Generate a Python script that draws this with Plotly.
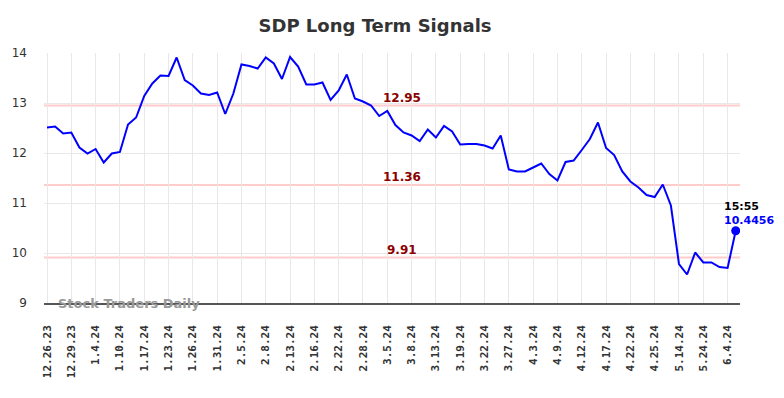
import plotly.graph_objects as go

tick_labels = ["12.26.23", "12.29.23", "1.4.24", "1.10.24", "1.17.24", "1.23.24", "1.26.24",
               "1.31.24", "2.5.24", "2.8.24", "2.13.24", "2.16.24", "2.22.24", "2.28.24",
               "3.5.24", "3.8.24", "3.13.24", "3.19.24", "3.22.24", "3.27.24", "4.3.24",
               "4.9.24", "4.12.24", "4.17.24", "4.22.24", "4.25.24", "5.14.24", "5.24.24",
               "6.4.24"]

prices = [12.51, 12.53, 12.39, 12.41, 12.11, 11.99, 12.08, 11.81, 11.99, 12.02,
          12.57, 12.71, 13.14, 13.39, 13.55, 13.54, 13.91, 13.46, 13.35, 13.19,
          13.16, 13.21, 12.78, 13.19, 13.77, 13.74, 13.69, 13.91, 13.79, 13.48,
          13.92, 13.73, 13.37, 13.37, 13.41, 13.06, 13.25, 13.57, 13.09, 13.03,
          12.95, 12.74, 12.84, 12.56, 12.41, 12.35, 12.24, 12.47, 12.31, 12.54,
          12.43, 12.17, 12.18, 12.18, 12.15, 12.09, 12.35, 11.67, 11.63, 11.63,
          11.71, 11.79, 11.58, 11.45, 11.82, 11.85, 12.06, 12.28, 12.61, 12.10,
          11.96, 11.63, 11.43, 11.31, 11.16, 11.12, 11.37, 10.95, 9.78, 9.57,
          10.01, 9.81, 9.81, 9.72, 9.70, 10.4456]

levels = [12.95, 11.36, 9.91]
level_labels = ["12.95", "11.36", "9.91"]
last_time = "15:55"
last_label = "10.4456"
title = "SDP Long Term Signals"
watermark = "Stock Traders Daily"

x = list(range(len(prices)))
tick_step = 3
tickvals = [i * tick_step for i in range(len(tick_labels))]

fig = go.Figure()

for lv in levels:
    fig.add_shape(type="line", xref="paper", x0=0, x1=1, yref="y", y0=lv, y1=lv,
                  line=dict(color="#ffcccc", width=2), layer="below")

fig.add_trace(go.Scatter(x=x, y=prices, mode="lines",
                         line=dict(color="#0000ff", width=2), hoverinfo="skip"))
fig.add_trace(go.Scatter(x=[x[-1]], y=[prices[-1]], mode="markers",
                         marker=dict(color="#0000ff", size=9), hoverinfo="skip"))

for lv, txt in zip(levels, level_labels):
    fig.add_annotation(x=43.85, y=lv, text="<b>%s</b>" % txt, showarrow=False,
                       yshift=8, font=dict(family="DejaVu Sans", size=12, color="#8b0000"))

fig.add_annotation(x=x[-1], y=prices[-1], text="<b>%s</b>" % last_time, showarrow=False,
                   xanchor="left", yanchor="middle", xshift=-14, yshift=24,
                   font=dict(family="DejaVu Sans", size=11, color="#000000"))
fig.add_annotation(x=x[-1], y=prices[-1], text="<b>%s</b>" % last_label, showarrow=False,
                   xanchor="left", yanchor="middle", xshift=-14, yshift=10,
                   font=dict(family="DejaVu Sans", size=11, color="#0000ff"))

fig.add_annotation(xref="paper", yref="paper", x=12 / 700, y=0, text="<b>%s</b>" % watermark,
                   showarrow=False, xanchor="left", yanchor="middle",
                   font=dict(family="DejaVu Sans", size=13, color="#999999"))

fig.update_layout(
    width=784, height=398,
    margin=dict(l=40, r=44, t=53, b=95),
    paper_bgcolor="white", plot_bgcolor="white",
    showlegend=False,
    title=dict(text="<b>%s</b>" % title, x=375 / 784, xref="container", xanchor="center",
               y=1 - 26 / 398, yref="container", yanchor="middle",
               font=dict(family="DejaVu Sans", size=18, color="#333333")),
    xaxis=dict(range=[-0.37, 85.53], tickmode="array", tickvals=tickvals,
               ticktext=["<b>%s</b>" % t for t in tick_labels], tickangle=-90,
               tickfont=dict(family="DejaVu Sans Mono", size=11, color="#333333"),
               showgrid=True, gridcolor="#e8e8e8", gridwidth=1, zeroline=False,
               showline=True, linecolor="#555555", linewidth=1.5, ticks="", ticklen=0,
               ticklabelstandoff=16),
    yaxis=dict(range=[9, 14], tickvals=[9, 10, 11, 12, 13, 14],
               tickfont=dict(family="DejaVu Sans", size=12, color="#333333"),
               showgrid=True, gridcolor="#e8e8e8", gridwidth=1, zeroline=False,
               showline=False, ticks="", ticklabelstandoff=16),
)

fig.write_html("out.html", config={"displayModeBar": False},
               post_script="document.body.style.margin='0';document.body.style.padding='0';")
